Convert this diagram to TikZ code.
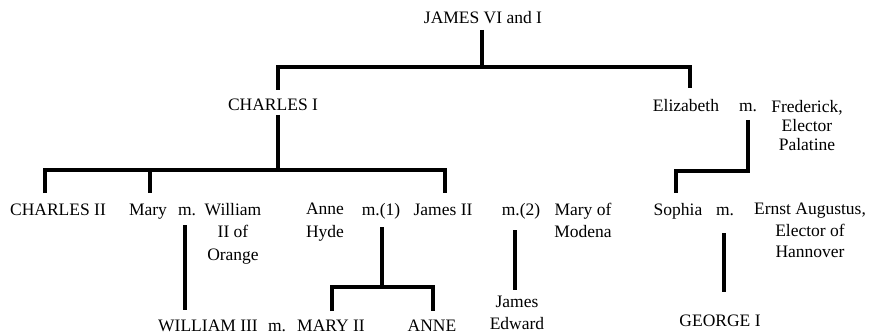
\documentclass[tikz,border=0pt]{standalone}
\usepackage{fontspec}
\setmainfont{Liberation Serif}
\begin{document}
\begin{tikzpicture}[x=1pt,y=-1pt,
  lbl/.style={inner sep=0pt, font=\fontsize{17.5}{21}\selectfont, text height=12pt, text depth=0pt},
  ml/.style={inner sep=0pt, anchor=north, align=center, font=\fontsize{17.5}{22.5}\selectfont},
  mlt/.style={ml, font=\fontsize{17.5}{19}\selectfont},
  mlm/.style={ml, font=\fontsize{17.5}{21.5}\selectfont},
  tree/.style={line width=4.5pt, line join=miter}]
\useasboundingbox (0,0) rectangle (870,334);
% names
\node[lbl] (james) at (483,18) {JAMES VI and I};
\node[lbl] (charles1) at (273,105) {CHARLES I};
\node[lbl] (eliz) at (686,106) {Elizabeth};
\node[lbl] (em) at (748,106) {m.};
\node[mlt] (fred) at (807,100) {Frederick,\\Elector\\Palatine};
\node[lbl] (charles2) at (58,209) {CHARLES II};
\node[lbl] (mary) at (148,209) {Mary};
\node[lbl] (marym) at (187,209) {m.};
\node[ml] (william) at (233,203) {William\\II of\\Orange};
\node[ml] (annehyde) at (325,203) {Anne\\Hyde};
\node[lbl] (m1) at (381,209) {m.(1)};
\node[lbl] (james2) at (443,209) {James II};
\node[lbl] (m2) at (521,209) {m.(2)};
\node[mlm] (modena) at (583,203) {Mary of\\Modena};
\node[lbl] (sophia) at (678,209) {Sophia};
\node[lbl] (sm) at (725,209) {m.};
\node[mlm] (ernst) at (810,203) {Ernst Augustus,\\Elector of\\Hannover};
\node[lbl] (william3) at (208,325) {WILLIAM III};
\node[lbl] (wm) at (277,325) {m.};
\node[lbl] (mary2) at (331,325) {MARY II};
\node[lbl] (anne) at (432,325) {ANNE};
\node[mlm] (jamesedw) at (517,296) {James\\Edward};
\node[lbl] (george) at (720,320) {GEORGE I};
% connection points
\coordinate (jtop) at (482,30);
\coordinate (jbar) at (482,67);
\coordinate (c1top) at (278,90);
\coordinate (eltop) at (690,88);
\coordinate (c1bot) at (278,115);
\coordinate (c1bar) at (278,170);
\coordinate (c2top) at (45,193);
\coordinate (marybar) at (150,170);
\coordinate (marytop) at (150,193);
\coordinate (j2top) at (445,193);
\coordinate (mmtop) at (185,225);
\coordinate (mmbot) at (185,310);
\coordinate (m1top) at (382,227);
\coordinate (m1bar) at (382,287);
\coordinate (mary2top) at (332,311);
\coordinate (annetop) at (433,311);
\coordinate (m2top) at (515,230);
\coordinate (m2bot) at (515,290);
\coordinate (emtop) at (748,120);
\coordinate (ebar) at (748,171);
\coordinate (sophtop) at (676,193);
\coordinate (smtop) at (724,233);
\coordinate (smbot) at (724,292);
% connectors
\draw[tree] (jtop) -- (jbar);
\draw[tree] (c1top) |- (jbar) -| (eltop);
\draw[tree] (c1bot) -- (c1bar);
\draw[tree] (c2top) |- (c1bar) -| (j2top);
\draw[tree] (marybar) -- (marytop);
\draw[tree] (mmtop) -- (mmbot);
\draw[tree] (m1top) -- (m1bar);
\draw[tree] (mary2top) |- (m1bar) -| (annetop);
\draw[tree] (m2top) -- (m2bot);
\draw[tree] (emtop) -- (ebar) -| (sophtop);
\draw[tree] (smtop) -- (smbot);
\end{tikzpicture}
\end{document}
